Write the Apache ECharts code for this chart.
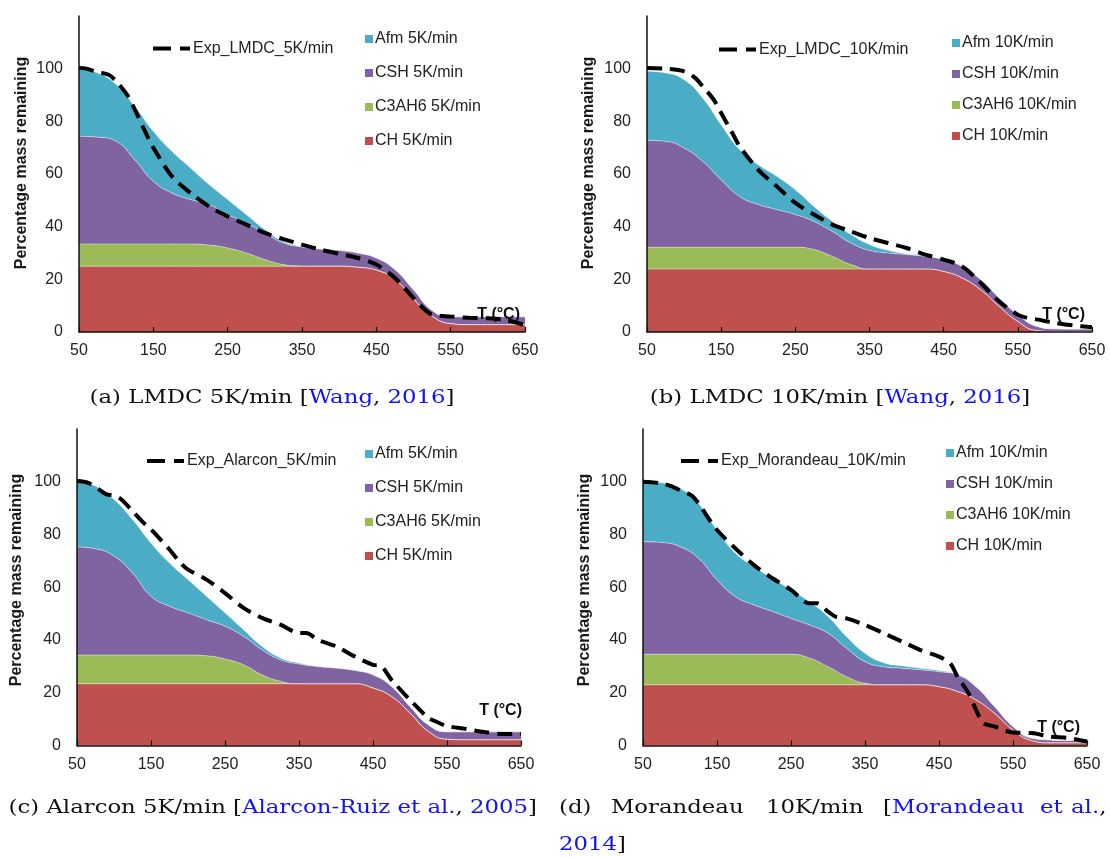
<!DOCTYPE html>
<html><head><meta charset="utf-8">
<script src="https://cdn.jsdelivr.net/npm/echarts@6/dist/echarts.min.js"></script>
<style>html,body{margin:0;padding:0;background:#fff}#c{width:1110px;height:857px}</style>
</head><body><div id="c"></div><script>
// ---------- DATA ----------
const tempX = [50,75,100,125,150,175,200,225,250,275,300,325,350,375,400,425,450,475,500,525,550,575,600,625,650];
const yTicks = [0,20,40,60,80,100];

// (a) LMDC 5K/min
const ch_a    = [25,25,25,25,25,25,25,25,25,25,25,25,25,25,25,24.6,23.5,20,12.5,6,3.2,2.8,2.8,2.8,2.8];
const c3ah6_a = [8.4,8.4,8.4,8.4,8.4,8.4,8.4,8,6.9,5,2.5,0.6,0,0,0,0,0,0,0,0,0,0,0,0,0];
const csh_a   = [40.9,40.6,39,32,23.8,19.4,16.9,15.4,12.7,11.4,10.1,8.2,7.3,6.5,6,5.4,4.6,3.7,3.5,2.2,2.6,3,3,3,3];
const afm_a   = [25.7,24.4,21.6,20.3,19,15.8,12,7.6,5.7,3.2,1.3,0.6,0.2,0,0,0,0,0,0,0,0,0,0,0,0];
const expX_a  = [50,60,75,90,100,115,125,140,150,175,200,225,250,275,300,325,350,375,400,425,450,475,500,515,525,550,575,600,625,650];
const expY_a  = [100.3,100,98.7,97.7,95.2,90,84.5,75.5,70,59.1,52.8,47.7,43.9,40.8,37.6,35.3,33.2,31.3,29.7,28.1,25.6,20.5,12.9,8.5,6.6,5.9,5.4,5.2,4.5,2.6];

// (b) LMDC 10K/min
const ch_b    = [23.9,23.9,23.9,23.9,23.9,23.9,23.9,23.9,23.9,23.9,23.9,23.9,23.9,23.9,23.9,23.9,23,20.5,16,9.7,4,0.6,0.2,0.2,0.2];
const c3ah6_b = [8.3,8.3,8.3,8.3,8.3,8.3,8.3,8.3,8.3,7.4,4.8,1.7,0,0,0,0,0,0,0,0,0,0,0,0,0];
const csh_b   = [40.6,40.2,37.7,32.6,25.6,19.3,16.2,14.3,12.4,10.7,9.5,8.2,7.1,6.1,5.5,4.8,4.5,4.4,3.9,3.2,2.6,1.6,1,0.9,0.9];
const afm_b   = [26.2,26,25.9,24.1,20.9,17.7,15.1,12.6,9.4,5.7,3.8,3.2,2.2,1,0.3,0.3,0,0,0,0,0,0,0,0,0];
const expX_b  = [50,75,100,115,125,140,150,165,175,200,225,250,275,300,325,350,375,400,425,450,475,500,525,550,565,575,600,625,650];
const expY_b  = [100.3,100,99,96.5,93.3,88.2,83.2,75.6,70.5,61.6,55.3,49,44.6,40.8,38.2,35.7,33.8,31.9,29.4,27.5,24.9,18.6,11.6,6.6,5.2,4.8,3.5,2.5,1.8];

// (c) Alarcon 5K/min
const ch_c    = [23.4,23.4,23.4,23.4,23.4,23.4,23.4,23.4,23.4,23.4,23.4,23.4,23.4,23.4,23.4,23.4,21.8,18.6,12.3,5.3,2.4,2.2,2.2,2.2,2.2];
const c3ah6_c = [10.9,10.9,10.9,10.9,10.9,10.9,10.9,10.6,9.4,7.2,3.4,0.9,0,0,0,0,0,0,0,0,0,0,0,0,0];
const csh_c   = [41,40.3,37.5,31.1,22.3,18.5,16,13.7,12.4,10.8,9.5,8.2,7.5,6.6,6,5.1,5,3.8,2.5,2.5,2.8,3,3,3,3];
const afm_c   = [24.7,23.8,21.5,20.3,20.2,16.4,12.6,8.9,5.1,2.5,1.3,0.7,0.4,0,0,0,0,0,0,0,0,0,0,0,0];
const expX_c  = [50,65,80,90,100,110,125,140,150,175,190,200,225,250,275,300,325,350,360,375,400,425,450,460,475,500,525,535,550,575,600,625,650];
const expY_c  = [100.3,99.6,97,95.2,94.8,93.3,88.9,84.4,81.9,74.3,69.2,66.7,62.9,57.8,52.2,48.4,45.8,42.7,42.7,40.1,37.6,33.8,30.6,30.3,24.9,17.3,10.4,9.1,7.4,6.3,5.1,4.4,4.4];

// (d) Morandeau 10K/min
const ch_d    = [23,23,23,23,23,23,23,23,23,23,23,23,23,23,23,23,22.3,20.5,17.3,12.2,5.9,1.9,1,1,1];
const c3ah6_d = [11.6,11.6,11.6,11.6,11.6,11.6,11.6,11.6,11.6,10.1,6.9,3.1,0.6,0,0,0,0,0,0,0,0,0,0,0,0];
const csh_d   = [42.7,42.4,40.8,36.4,28.2,21.8,18.7,16.2,13.6,12.6,12.7,10.8,8.2,6.9,6.3,5.7,5.7,6.3,5,2.6,1.3,0.9,1.1,0.9,0.9];
const afm_d   = [22.7,22.6,22.1,20.8,18.9,16.5,14.5,12.6,10.8,8.8,6.3,4.4,3.2,1.5,0.9,0.6,0.4,0,0,0,0,0,0,0,0];
const expX_d  = [50,75,90,100,115,125,140,150,175,200,225,250,275,285,300,310,325,350,375,400,425,450,465,475,490,500,510,525,550,575,600,625,650];
const expY_d  = [100,99.4,98.1,96.8,94.9,91.8,85.5,81.7,74.7,68.4,63.4,59,53.9,53.9,50.8,48.9,48.2,45.7,42.6,39.4,36.2,33.7,31.2,26.1,19.8,13.5,8.5,7.2,4.9,4.7,3.4,2.8,1.5];

const seriesNames = ['CH','C3AH6','CSH','Afm'];
const legendOrder = ['Afm','CSH','C3AH6','CH'];
const colors = {Afm:'#4BACC6', CSH:'#8064A2', C3AH6:'#9BBB59', CH:'#C0504D'};

// ---------- LAYOUT ----------
const panels = [
  {rate:'5K/min', exp:'Exp_LMDC_5K/min', comps:{CH:ch_a,C3AH6:c3ah6_a,CSH:csh_a,Afm:afm_a}, ex:expX_a, ey:expY_a,
   grid:{left:79,top:16,width:446,height:316}, expLeg:{left:153,top:40.5}, compLeg:{left:365,top:31,gap:18}, tLab:[520,315], yTitle:[22,163]},
  {rate:'10K/min', exp:'Exp_LMDC_10K/min', comps:{CH:ch_b,C3AH6:c3ah6_b,CSH:csh_b,Afm:afm_b}, ex:expX_b, ey:expY_b,
   grid:{left:647,top:16,width:445,height:316}, expLeg:{left:719,top:41.5}, compLeg:{left:952,top:35,gap:15}, tLab:[1085,315], yTitle:[589,163]},
  {rate:'5K/min', exp:'Exp_Alarcon_5K/min', comps:{CH:ch_c,C3AH6:c3ah6_c,CSH:csh_c,Afm:afm_c}, ex:expX_c, ey:expY_c,
   grid:{left:77,top:429,width:444,height:316.5}, expLeg:{left:147,top:453}, compLeg:{left:365,top:446,gap:18}, tLab:[522,711], yTitle:[17,580]},
  {rate:'10K/min', exp:'Exp_Morandeau_10K/min', comps:{CH:ch_d,C3AH6:c3ah6_d,CSH:csh_d,Afm:afm_d}, ex:expX_d, ey:expY_d,
   grid:{left:643,top:429,width:444,height:316.5}, expLeg:{left:681,top:453}, compLeg:{left:946,top:445,gap:15}, tLab:[1080,728], yTitle:[585,580]}
];

const sans = '"Liberation Sans", Arial, sans-serif';
const serif = '"DejaVu Serif", serif';
const option = {animation:false, backgroundColor:'#fff', grid:[], xAxis:[], yAxis:[], series:[], legend:[], graphic:[]};

panels.forEach((p, i) => {
  option.grid.push(Object.assign({containLabel:false}, p.grid));
  option.xAxis.push({type:'value', gridIndex:i, min:50, max:650, interval:100,
    axisLine:{show:true, lineStyle:{color:'#111', width:1.5}},
    axisTick:{show:true, inside:true, length:5, lineStyle:{color:'#111', width:1.2}},
    axisLabel:{margin:11, color:'#222', fontSize:16, fontFamily:sans, showMinLabel:true, showMaxLabel:true},
    splitLine:{show:false}, z:10});
  option.yAxis.push({type:'value', gridIndex:i, min:0, max:120, interval:20,
    axisLine:{show:true, lineStyle:{color:'#111', width:1.5}},
    axisTick:{show:false},
    axisLabel:{margin:16, color:'#222', fontSize:16, fontFamily:sans,
      formatter:v => yTicks.indexOf(v) >= 0 ? String(v) : ''},
    splitLine:{show:false}, z:10});
  seriesNames.forEach(k => {
    const arr = p.comps[k];
    // value first so that the stack is applied on the y (mass) dimension
    option.series.push({type:'line', name:k+' '+p.rate, xAxisIndex:i, yAxisIndex:i, stack:'s'+i,
      smooth:0.5, symbol:'none', showSymbol:false, silent:true,
      encode:{x:1, y:0},
      data: tempX.map((x, j) => [arr[j], x]),
      lineStyle:{width:0.8, color:'rgba(255,255,255,0.55)'},
      itemStyle:{color:colors[k]},
      areaStyle:{color:colors[k], opacity:1}, z:2});
  });
  option.series.push({type:'line', name:p.exp, xAxisIndex:i, yAxisIndex:i, smooth:0.3,
    symbol:'none', showSymbol:false, silent:true,
    data: p.ex.map((x, j) => [x, p.ey[j]]),
    lineStyle:{color:'#000', width:4, type:[15,8]}, itemStyle:{color:'#000'}, z:5});
  option.legend.push({left:p.expLeg.left, top:p.expLeg.top, padding:0, orient:'horizontal', selectedMode:false,
    itemWidth:37, itemHeight:4, icon:'path://M0,0H18V4H0Z M27,0H37V4H27Z',
    textStyle:{fontSize:16, fontFamily:sans, color:'#222', padding:[0,0,0,-2]},
    data:[{name:p.exp, itemStyle:{color:'#000'}}]});
  option.legend.push({left:p.compLeg.left, top:p.compLeg.top, padding:0, orient:'vertical', selectedMode:false,
    itemWidth:8, itemHeight:8, icon:'rect', itemGap:p.compLeg.gap,
    textStyle:{fontSize:16, fontFamily:sans, color:'#222', padding:[0,0,0,-3]},
    data: legendOrder.map(k => ({name:k+' '+p.rate, itemStyle:{color:colors[k], borderWidth:0}}))});
  option.graphic.push({type:'text', x:p.yTitle[0], y:p.yTitle[1], rotation:Math.PI/2, z:20,
    style:{text:'Percentage mass remaining', font:'bold 16px '+sans, fill:'#1a1a1a', align:'center', verticalAlign:'middle'}});
  option.graphic.push({type:'text', x:p.tLab[0], y:p.tLab[1], z:20,
    style:{text:'T (°C)', font:'bold 16px '+sans, fill:'#111', align:'right', verticalAlign:'middle'}});
});

// ---------- CAPTIONS ----------
const capFont = '19px ' + serif;
const blue = '#1010ff';
const rich = {c:{fill:blue, font:capFont}, k:{fill:'#111', font:capFont}};
function cap(x, y, text, align) {
  return {type:'text', x:x, y:y, scaleX:1.2, z:20,
    style:{text:text, rich:rich, font:capFont, fill:'#111', align:align, verticalAlign:'middle'}};
}
option.graphic.push(cap(272, 398, '{k|(a) LMDC 5K/min [}{c|Wang}{k|, }{c|2016}{k|]}', 'center'));
option.graphic.push(cap(840, 398, '{k|(b) LMDC 10K/min [}{c|Wang}{k|, }{c|2016}{k|]}', 'center'));
option.graphic.push(cap(537, 808, '{k|(c) Alarcon 5K/min [}{c|Alarcon-Ruiz et al.}{k|, }{c|2005}{k|]}', 'right'));
option.graphic.push(cap(559, 808, '{k|(d)}', 'left'));
option.graphic.push(cap(611, 808, '{k|Morandeau}', 'left'));
option.graphic.push(cap(766, 808, '{k|10K/min}', 'left'));
option.graphic.push(cap(883, 808, '{k|[}{c|Morandeau}', 'left'));
option.graphic.push(cap(1040, 808, '{c|et}', 'left'));
option.graphic.push(cap(1071, 808, '{c|al.}{k|,}', 'left'));
option.graphic.push(cap(559, 845, '{c|2014}{k|]}', 'left'));

const chart = echarts.init(document.getElementById('c'));
chart.setOption(option);
</script></body></html>
